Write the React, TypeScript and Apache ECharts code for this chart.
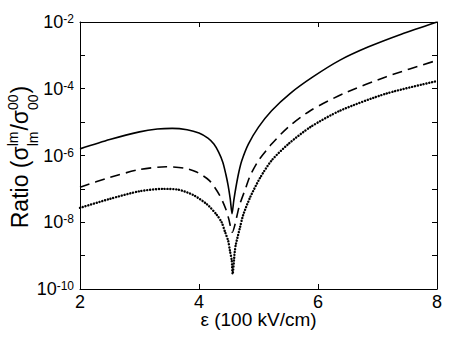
import React, { useEffect, useRef } from "react";
import * as echarts from "echarts";

// Solid curve
const solidX = [2.0, 2.5, 3.0, 3.3, 3.55, 3.8, 4.0, 4.15, 4.25, 4.33, 4.4, 4.45, 4.49, 4.525, 4.555, 4.585, 4.62, 4.67, 4.72, 4.83, 5.0, 5.22, 5.53, 5.92, 6.37, 6.85, 7.4, 8.0];
const solidY = [1.58e-6, 3.0e-6, 5.1e-6, 6.2e-6, 6.5e-6, 5.9e-6, 4.7e-6, 3.3e-6, 2.2e-6, 1.26e-6, 6.3e-7, 2.8e-7, 1.26e-7, 5.0e-8, 1.8e-8, 4.5e-8, 1.1e-7, 3.2e-7, 7.1e-7, 2.2e-6, 7.1e-6, 2.2e-5, 7.2e-5, 2.3e-4, 7.2e-4, 1.8e-3, 4.3e-3, 1.0e-2];

// Dashed curve
const dashedX = [2.0, 2.5, 3.0, 3.45, 3.75, 3.96, 4.18, 4.35, 4.45, 4.5, 4.56, 4.6, 4.68, 4.78, 4.86, 5.0, 5.22, 5.5, 5.87, 6.43, 7.15, 8.0];
const dashedY = [1.12e-7, 2.2e-7, 3.8e-7, 4.6e-7, 4.2e-7, 3.2e-7, 1.74e-7, 6.3e-8, 2.5e-8, 1.26e-8, 5.0e-9, 7.9e-9, 3.2e-8, 1.0e-7, 2.5e-7, 7.1e-7, 2.2e-6, 7.1e-6, 2.2e-5, 7.2e-5, 2.3e-4, 7.1e-4];

// Dotted curve
const dottedX = [2.0, 2.5, 3.0, 3.4, 3.65, 3.9, 4.13, 4.3, 4.38, 4.44, 4.49, 4.52, 4.55, 4.565, 4.6, 4.62, 4.69, 4.74, 4.86, 5.03, 5.22, 5.5, 5.87, 6.37, 7.15, 8.0];
const dottedY = [2.7e-8, 5.0e-8, 8.5e-8, 1.0e-7, 9.5e-8, 6.6e-8, 3.5e-8, 1.66e-8, 1.0e-8, 5.0e-9, 2.8e-9, 1.4e-9, 7.1e-10, 2.8e-10, 1.26e-9, 2.2e-9, 7.1e-9, 1.6e-8, 5.6e-8, 2.2e-7, 7.1e-7, 2.2e-6, 7.1e-6, 2.2e-5, 7.2e-5, 1.7e-4];

const xTicks = [2, 4, 6, 8];
const yMin = 1e-10;
const yMax = 1e-2;
const xTitle = "ε (100 kV/cm)";

const FONT = '"Liberation Sans", Arial, Helvetica, sans-serif';

function measure(text: string, size: number): number {
  const c = document.createElement("canvas");
  const ctx = c.getContext("2d");
  if (!ctx) return text.length * size * 0.55;
  ctx.font = `${size}px "Liberation Sans"`;
  return ctx.measureText(text).width;
}

export default function App() {
  const ref = useRef<HTMLDivElement>(null);
  useEffect(() => {
    if (!ref.current) return;
    const chart = echarts.init(ref.current, null, { renderer: "svg" });

    const big = 23;
    const small = 14;
    const wMain1 = measure("Ratio (σ", big);
    const wLm = measure("lm", small);
    const wMain2 = measure("/σ", big);
    const w00 = measure("00", small);
    const wEnd = measure(")", big);
    const total = wMain1 + wLm + 1 + wMain2 + w00 + 1 + wEnd;
    let lx = -total / 2;
    const mainY = -7;
    const supY = -14;
    const subY = 6;
    const children: any[] = [];
    const addText = (text: string, x: number, y: number, size: number) => {
      children.push({
        type: "text",
        x,
        y,
        style: { text, font: `${size}px ${FONT}`, fill: "#000", align: "left", verticalAlign: "middle" },
      });
    };
    addText("Ratio (σ", lx, mainY, big);
    lx += wMain1;
    addText("lm", lx, supY, small);
    addText("lm", lx, subY, small);
    lx += wLm + 1;
    addText("/σ", lx, mainY, big);
    lx += wMain2;
    addText("00", lx, supY, small);
    addText("00", lx, subY, small);
    lx += w00 + 1;
    addText(")", lx, mainY, big);

    const yLabel = (v: number) => {
      const e = Math.round(Math.log10(v));
      if (e % 2 !== 0) return "";
      return `{b|10}{s|${e}}`;
    };

    const mk = (xs: number[], ys: number[]) => xs.map((x, i) => [x, ys[i]]);

    const axisCommon = {
      axisLine: { show: true, lineStyle: { color: "#000", width: 1 } },
      splitLine: { show: false },
    };

    const option: any = {
      animation: false,
      backgroundColor: "#fff",
      grid: { left: 80, right: 13, top: 22, bottom: 52, containLabel: false, outerBoundsMode: "none" },
      xAxis: [
        {
          type: "value",
          min: 2,
          max: 8,
          interval: 2,
          ...axisCommon,
          axisTick: { show: true, inside: true, length: 5, lineStyle: { color: "#000" } },
          axisLabel: {
            color: "#000",
            fontSize: 18,
            lineHeight: 14,
            fontFamily: FONT,
            margin: 6,
            formatter: (v: number) => (xTicks.includes(v) ? String(v) : ""),
          },
          name: xTitle,
          nameLocation: "middle",
          nameGap: 21,
          nameMoveOverlap: false,
          nameTextStyle: { color: "#000", fontSize: 19, lineHeight: 19, fontFamily: FONT, verticalAlign: "top" },
        },
        {
          type: "value",
          position: "top",
          min: 2,
          max: 8,
          interval: 2,
          ...axisCommon,
          axisTick: { show: true, inside: true, length: 5, lineStyle: { color: "#000" } },
          axisLabel: { show: false },
        },
      ],
      yAxis: [
        {
          type: "log",
          logBase: 10,
          min: yMin,
          max: yMax,
          splitNumber: 8,
          ...axisCommon,
          axisTick: { show: true, inside: true, length: 5, lineStyle: { color: "#000" } },
          minorTick: { show: false },
          axisLabel: {
            color: "#000",
            fontFamily: FONT,
            margin: 6,
            formatter: yLabel,
            rich: {
              b: { fontSize: 18, lineHeight: 18, fontFamily: FONT, color: "#000", padding: [6, 0, 0, 0], verticalAlign: "bottom" },
              s: { fontSize: 12, lineHeight: 12, fontFamily: FONT, color: "#000", verticalAlign: "top" },
            },
          },
        },
        {
          type: "log",
          logBase: 10,
          min: yMin,
          max: yMax,
          splitNumber: 8,
          position: "right",
          ...axisCommon,
          axisTick: { show: true, inside: true, length: 5, lineStyle: { color: "#000" } },
          axisLabel: { show: false },
        },
      ],
      series: [
        {
          type: "line",
          data: mk(solidX, solidY),
          showSymbol: false,
          smooth: 0.25,
          lineStyle: { color: "#000", width: 1.6, type: "solid" },
        },
        {
          type: "line",
          data: mk(dashedX, dashedY),
          showSymbol: false,
          smooth: 0.25,
          lineStyle: { color: "#000", width: 1.6, type: [10, 6] },
        },
        {
          type: "line",
          data: mk(dottedX, dottedY),
          showSymbol: false,
          smooth: 0.25,
          lineStyle: { color: "#000", width: 2.4, type: [0.1, 2.8], cap: "round" },
        },
      ],
      graphic: [
        {
          type: "group",
          x: 27,
          y: 157,
          rotation: Math.PI / 2,
          children,
        },
      ],
    };
    chart.setOption(option);
    return () => chart.dispose();
  }, []);
  return <div ref={ref} style={{ position: "absolute", left: 0, top: 0, width: 450, height: 341 }} />;
}
